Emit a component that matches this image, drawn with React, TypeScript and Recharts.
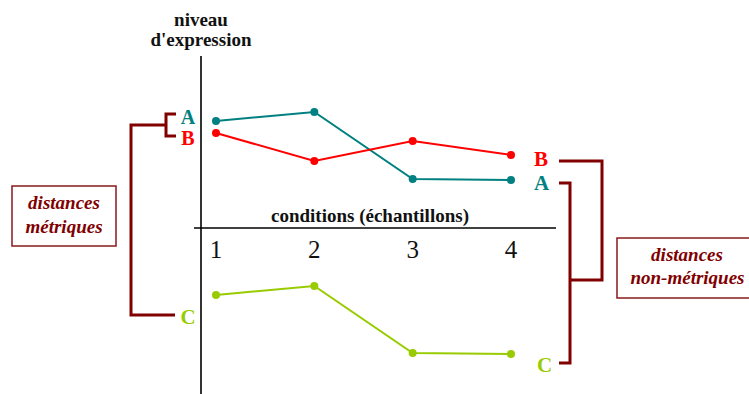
import React from "react";
import { LineChart, Line, XAxis, YAxis, ReferenceLine } from "recharts";

// conditions (échantillons)
const conditions = [1, 2, 3, 4];
// niveau d'expression (arbitrary units, 0 = conditions axis)
const seriesA = [10.7, 11.6, 4.9, 4.8];
const seriesB = [9.5, 6.7, 8.7, 7.3];
const seriesC = [-6.7, -5.8, -12.5, -12.6];
const tickLabels = ["1", "2", "3", "4"];

const TEAL = "#008080";
const RED = "#ff0000";
const GREEN = "#99cc00";
const DARKRED = "#800000";
const SERIF = "'Liberation Serif', 'Times New Roman', serif";

const data = conditions.map((c, i) => ({
  cond: c,
  A: seriesA[i],
  B: seriesB[i],
  C: seriesC[i],
}));

const CondTick = (props: any) => {
  const { x, y, payload, index } = props;
  return (
    <text
      x={x}
      y={y + 202}
      textAnchor="middle"
      fontFamily={SERIF}
      fontSize={25}
      fill="#111"
    >
      {tickLabels[index] ?? payload.value}
    </text>
  );
};

const bold = { fontFamily: SERIF, fontWeight: 700 } as const;

export default function App() {
  return (
    <div style={{ position: "absolute", left: 0, top: 0, width: 749, height: 394, background: "#fff" }}>
      <LineChart
        width={749}
        height={394}
        data={data}
        margin={{ top: 26, right: 193, bottom: 0, left: 194 }}
      >
        <XAxis
          dataKey="cond"
          type="number"
          orientation="top"
          domain={[0.7763, 4.4576]}
          allowDataOverflow
          ticks={conditions}
          interval={0}
          axisLine={false}
          tickLine={false}
          tickSize={0}
          tickMargin={0}
          height={30}
          tick={<CondTick />}
        />
        <YAxis hide type="number" domain={[-16.6, 17.2]} allowDataOverflow />
        <ReferenceLine x={0.8475} stroke="#333" strokeWidth={2} />
        <ReferenceLine y={0} stroke="#000" strokeWidth={1.5} />
        <Line
          dataKey="A"
          type="linear"
          stroke={TEAL}
          strokeWidth={2}
          dot={{ r: 4, fill: TEAL, stroke: TEAL, strokeWidth: 0 }}
          activeDot={false}
          isAnimationActive={false}
        />
        <Line
          dataKey="B"
          type="linear"
          stroke={RED}
          strokeWidth={2}
          dot={{ r: 4, fill: RED, stroke: RED, strokeWidth: 0 }}
          activeDot={false}
          isAnimationActive={false}
        />
        <Line
          dataKey="C"
          type="linear"
          stroke={GREEN}
          strokeWidth={2}
          dot={{ r: 4, fill: GREEN, stroke: GREEN, strokeWidth: 0 }}
          activeDot={false}
          isAnimationActive={false}
        />
      </LineChart>
      <svg
        width={749}
        height={394}
        style={{ position: "absolute", left: 0, top: 0, pointerEvents: "none", overflow: "visible" }}
      >
        {/* axis titles */}
        <text x={201} y={26} textAnchor="middle" fontSize={19} fill="#111" {...bold}>niveau</text>
        <text x={201} y={46} textAnchor="middle" fontSize={19} fill="#111" {...bold}>d'expression</text>
        <text x={370} y={222} textAnchor="middle" fontSize={19} fill="#111" {...bold}>conditions (échantillons)</text>

        {/* series labels left */}
        <text x={188} y={124} textAnchor="middle" fontSize={20} fill={TEAL} {...bold}>A</text>
        <text x={188} y={145} textAnchor="middle" fontSize={20} fill={RED} {...bold}>B</text>
        <text x={188} y={324} textAnchor="middle" fontSize={21} fill={GREEN} {...bold}>C</text>
        {/* series labels right */}
        <text x={541} y={166} textAnchor="middle" fontSize={21} fill={RED} {...bold}>B</text>
        <text x={541.5} y={190} textAnchor="middle" fontSize={21} fill={TEAL} {...bold}>A</text>
        <text x={544.5} y={372} textAnchor="middle" fontSize={21} fill={GREEN} {...bold}>C</text>

        {/* metric dendrogram */}
        <path d="M176,114 H166 V136 H176" fill="none" stroke={DARKRED} strokeWidth={3} />
        <path d="M166,125 H131 V315 H175" fill="none" stroke={DARKRED} strokeWidth={3} />
        {/* non-metric dendrogram */}
        <path d="M559,161 H602 V280 H570" fill="none" stroke={DARKRED} strokeWidth={3} />
        <path d="M559,183 H570 V363 H559" fill="none" stroke={DARKRED} strokeWidth={3} />

        {/* boxes */}
        <rect x={12} y={186} width={104} height={60} fill="#fff" stroke="#8b1a1a" strokeWidth={1.5} />
        <text x={64} y={209} textAnchor="middle" fontSize={19} fontStyle="italic" fill={DARKRED} {...bold}>distances</text>
        <text x={64} y={233} textAnchor="middle" fontSize={19} fontStyle="italic" fill={DARKRED} {...bold}>métriques</text>
        <rect x={617} y={238} width={133} height={60} fill="#fff" stroke="#8b1a1a" strokeWidth={1.5} />
        <text x={687} y={261} textAnchor="middle" fontSize={19} fontStyle="italic" fill={DARKRED} {...bold}>distances</text>
        <text x={687.5} y={284} textAnchor="middle" fontSize={19} fontStyle="italic" fill={DARKRED} {...bold}>non-métriques</text>
      </svg>
    </div>
  );
}
